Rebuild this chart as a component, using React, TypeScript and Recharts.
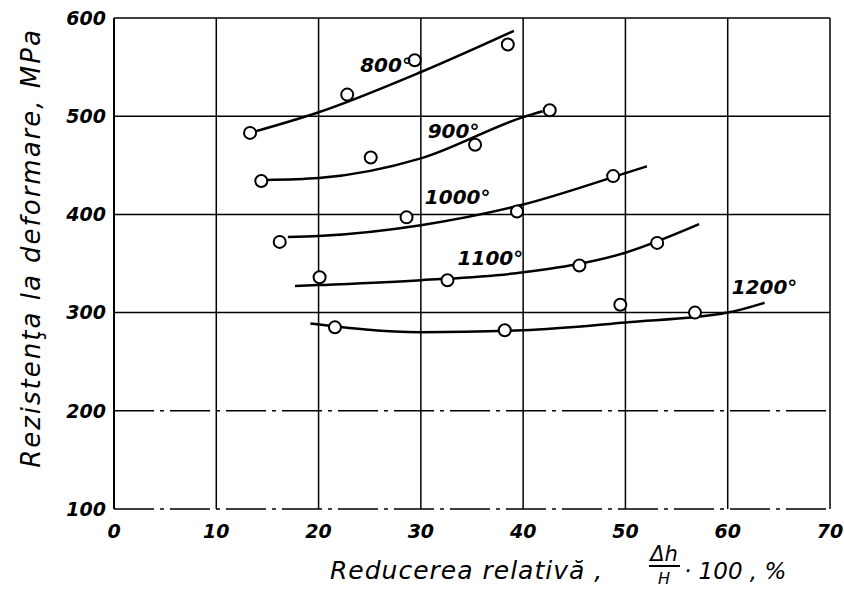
import { ComposedChart, Line, Scatter, XAxis, YAxis, CartesianGrid, ReferenceLine, ReferenceDot, Label } from 'recharts';

// axis ticks
const xTicks = [0, 10, 20, 30, 40, 50, 60, 70];
const yTicks = [100, 200, 300, 400, 500, 600];

// measured points (hollow circles)
const pts800 = [{ x: 13.3, y: 483 }, { x: 22.8, y: 522 }, { x: 29.4, y: 557 }, { x: 38.5, y: 573 }];
const pts900 = [{ x: 14.4, y: 434 }, { x: 25.1, y: 458 }, { x: 35.3, y: 471 }, { x: 42.6, y: 506 }];
const pts1000 = [{ x: 16.2, y: 372 }, { x: 28.6, y: 397 }, { x: 39.4, y: 403 }, { x: 48.8, y: 439 }];
const pts1100 = [{ x: 20.1, y: 336 }, { x: 32.6, y: 333 }, { x: 45.5, y: 348 }, { x: 53.1, y: 371 }];
const pts1200 = [{ x: 21.6, y: 285 }, { x: 38.2, y: 282 }, { x: 49.5, y: 308 }, { x: 56.8, y: 300 }];

// fitted curves
const fit800 = [{ x: 13.3, y: 483 }, { x: 20, y: 504 }, { x: 30, y: 545 }, { x: 39.1, y: 587 }];
const fit900 = [{ x: 14.8, y: 435 }, { x: 20, y: 437 }, { x: 30, y: 457 }, { x: 40, y: 499 }, { x: 41.9, y: 505 }];
const fit1000 = [{ x: 17, y: 377 }, { x: 20, y: 378 }, { x: 30, y: 389 }, { x: 40, y: 410 }, { x: 50, y: 442 }, { x: 52.1, y: 449 }];
const fit1100 = [{ x: 17.7, y: 327 }, { x: 20, y: 328 }, { x: 30, y: 333 }, { x: 40, y: 341 }, { x: 50, y: 361 }, { x: 57.2, y: 390 }];
const fit1200 = [{ x: 19.2, y: 289 }, { x: 30, y: 280 }, { x: 40, y: 282 }, { x: 50, y: 290 }, { x: 60, y: 300 }, { x: 63.6, y: 310 }];

const tempLabels = [
  { text: '800°', x: 26.6, y: 552 },
  { text: '900°', x: 33.2, y: 485 },
  { text: '1000°', x: 33.6, y: 418 },
  { text: '1100°', x: 36.8, y: 356 },
  { text: '1200°', x: 63.6, y: 326 },
];

const series = [
  { pts: pts800, fit: fit800 },
  { pts: pts900, fit: fit900 },
  { pts: pts1000, fit: fit1000 },
  { pts: pts1100, fit: fit1100 },
  { pts: pts1200, fit: fit1200 },
];

const FONT = '"DejaVu Sans", sans-serif';
const tickStyle = { fill: '#000', fontSize: 19, fontStyle: 'italic', fontWeight: 'bold', fontFamily: FONT };

const Ring = (props: any) => (
  <circle cx={props.cx} cy={props.cy} r={6} fill="#fff" stroke="#000" strokeWidth={2} />
);

const XTitle = () => (
  <g fontFamily={FONT} fontStyle="italic" fill="#000">
    <text x={330} y={579} fontSize={25} letterSpacing={1}>Reducerea relativă ,</text>
    <text x={664} y={561} fontSize={21} textAnchor="middle">Δh</text>
    <line x1={649} x2={680} y1={566} y2={566} stroke="#000" strokeWidth={2} />
    <text x={664} y={584} fontSize={16} textAnchor="middle">H</text>
    <text x={684} y={579} fontSize={23}>· 100 , %</text>
  </g>
);

const YTitle = () => (
  <text
    x={32}
    y={248}
    transform="rotate(-90 32 248)"
    textAnchor="middle"
    dominantBaseline="middle"
    fontFamily={FONT}
    fontStyle="italic"
    fontSize={26}
    letterSpacing={2}
    fill="#000"
  >
    Rezistenţa la deformare, MPa
  </text>
);

export default function App() {
  return (
    <div style={{ position: 'absolute', left: 0, top: 0, width: 844, height: 589, background: '#fff' }}>
      <ComposedChart width={844} height={589} margin={{ top: 18, right: 14, bottom: 50, left: 54 }}>
        <CartesianGrid
          stroke="#000"
          strokeWidth={1.5}
          horizontalValues={[300, 400, 500, 600]}
          verticalValues={[10, 20, 30, 40, 50, 60, 70]}
        />
        <ReferenceLine y={200} stroke="#000" strokeWidth={1.5} strokeDasharray="40 6 4 6" />
        <XAxis
          type="number"
          dataKey="x"
          domain={[0, 70]}
          ticks={xTicks}
          allowDataOverflow
          tickLine={false}
          tickMargin={10}
          height={30}
          axisLine={{ stroke: '#000', strokeWidth: 1.5, strokeDasharray: '40 6 4 6' }}
          tick={tickStyle}
        >
          <Label content={XTitle} />
        </XAxis>
        <YAxis
          type="number"
          dataKey="y"
          domain={[100, 600]}
          ticks={yTicks}
          allowDataOverflow
          tickLine={false}
          tickMargin={2}
          width={60}
          axisLine={{ stroke: '#000', strokeWidth: 2 }}
          tick={tickStyle}
        >
          <Label content={YTitle} />
        </YAxis>
        {series.map((s, i) => (
          <Line
            key={`fit-${i}`}
            data={s.fit}
            dataKey="y"
            type="monotone"
            stroke="#000"
            strokeWidth={2.5}
            dot={false}
            activeDot={false}
            isAnimationActive={false}
          />
        ))}
        {series.map((s, i) => (
          <Scatter key={`pts-${i}`} data={s.pts} dataKey="y" shape={Ring} isAnimationActive={false} />
        ))}
        {tempLabels.map((t) => (
          <ReferenceDot
            key={t.text}
            x={t.x}
            y={t.y}
            r={0}
            stroke="none"
            fill="none"
            label={{
              value: t.text,
              position: 'center',
              fill: '#000',
              fontSize: 20,
              fontStyle: 'italic',
              fontWeight: 'bold',
              fontFamily: FONT,
            }}
          />
        ))}
      </ComposedChart>
    </div>
  );
}
